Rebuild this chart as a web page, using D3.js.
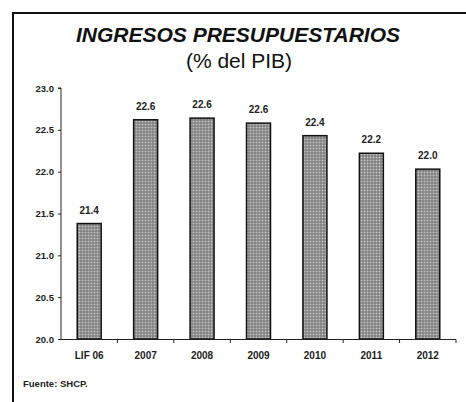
<!DOCTYPE html>
<html>
<head>
<meta charset="utf-8">
<script src="https://cdn.jsdelivr.net/npm/d3@7"></script>
<style>
  html, body { margin: 0; padding: 0; background: #fff; }
  svg { display: block; font-family: Arial, "Liberation Sans", sans-serif; }
</style>
</head>
<body>
<svg id="chart" width="466" height="402"></svg>
<script>
// Budget revenue as share of GDP
const categories = ["LIF 06", "2007", "2008", "2009", "2010", "2011", "2012"];
const values = [21.38, 22.62, 22.64, 22.58, 22.43, 22.22, 22.03];
const yTicks = [20.0, 20.5, 21.0, 21.5, 22.0, 22.5, 23.0];

const svg = d3.select("#chart");
const W = 466, H = 402;

// dotted fill for bars
const defs = svg.append("defs");
const pat = defs.append("pattern")
  .attr("id", "dots").attr("patternUnits", "userSpaceOnUse")
  .attr("width", 3).attr("height", 3);
pat.append("rect").attr("width", 3).attr("height", 3).attr("fill", "#707070");
pat.append("rect").attr("x", 0.5).attr("y", 0.5).attr("width", 2).attr("height", 2).attr("fill", "#c4c4c4");

// frame: top and left edges
svg.append("line").attr("x1", 12).attr("x2", W).attr("y1", 13).attr("y2", 13)
  .attr("stroke", "#111").attr("stroke-width", 2);
svg.append("line").attr("x1", 13).attr("x2", 13).attr("y1", 12).attr("y2", H)
  .attr("stroke", "#111").attr("stroke-width", 2);

// titles
svg.append("text").attr("x", 238).attr("y", 42).attr("text-anchor", "middle")
  .attr("font-size", 21).attr("font-weight", "bold").attr("font-style", "italic")
  .attr("fill", "#111").text("INGRESOS PRESUPUESTARIOS");
svg.append("text").attr("x", 239).attr("y", 68).attr("text-anchor", "middle")
  .attr("font-size", 21).attr("fill", "#111").text("(% del PIB)");

const x = d3.scaleBand().domain(categories).range([61, 456]).paddingInner(0.575).paddingOuter(0.2875);
const y = d3.scaleLinear().domain([20, 23]).range([339, 88]);

// y axis
const yAxis = d3.axisLeft(y).tickValues(yTicks).tickFormat(d3.format(".1f"))
  .tickSize(3).tickPadding(4);
const gy = svg.append("g").attr("transform", "translate(61,0)").call(yAxis);
gy.select(".domain").attr("stroke", "#222").attr("stroke-width", 1).attr("d", "M-3,88H0V339");
gy.selectAll(".tick line").attr("stroke", "#222");
gy.selectAll(".tick text").attr("font-size", 9.5).attr("font-weight", "bold")
  .attr("fill", "#222").attr("font-family", "Arial, 'Liberation Sans', sans-serif");

// bars
svg.append("g").selectAll("rect").data(values).join("rect")
  .attr("x", (d, i) => x(categories[i]))
  .attr("y", d => y(d))
  .attr("width", x.bandwidth())
  .attr("height", d => y(20) - y(d))
  .attr("fill", "url(#dots)")
  .attr("stroke", "#111").attr("stroke-width", 1.5);

// value labels
svg.append("g").selectAll("text").data(values).join("text")
  .attr("x", (d, i) => x(categories[i]) + x.bandwidth() / 2)
  .attr("y", d => y(d) - 10)
  .attr("text-anchor", "middle")
  .attr("font-size", 10).attr("font-weight", "bold").attr("fill", "#222")
  .text(d => d3.format(".1f")(d));

// x axis with boundary ticks
const xStep = x.step();
const boundaries = d3.range(categories.length + 1).map(i => 61 + i * xStep);
const gx = svg.append("g");
gx.append("line").attr("x1", 61).attr("x2", 456).attr("y1", 339.5).attr("y2", 339.5)
  .attr("stroke", "#222").attr("stroke-width", 1.2);
gx.selectAll("line.t").data(boundaries.slice(1)).join("line").attr("class", "t")
  .attr("x1", d => d).attr("x2", d => d).attr("y1", 339.5).attr("y2", 343)
  .attr("stroke", "#222");
gx.selectAll("text").data(categories).join("text")
  .attr("x", d => x(d) + x.bandwidth() / 2)
  .attr("y", 359)
  .attr("text-anchor", "middle")
  .attr("font-size", 10).attr("font-weight", "bold").attr("fill", "#222")
  .text(d => d);

// source note
svg.append("text").attr("x", 23).attr("y", 387)
  .attr("font-size", 9.5).attr("font-weight", "bold").attr("fill", "#222")
  .text("Fuente: SHCP.");
</script>
</body>
</html>
